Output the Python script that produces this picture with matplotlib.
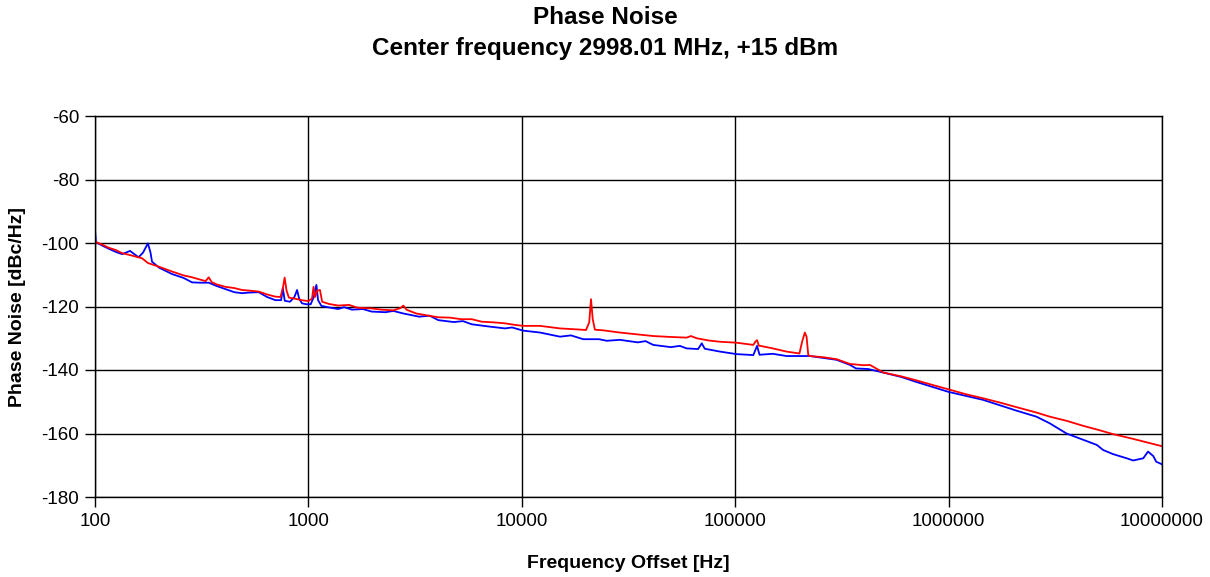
import matplotlib
matplotlib.use("Agg")
import matplotlib.pyplot as plt
from matplotlib.ticker import FixedLocator, FixedFormatter, NullLocator

plt.rcParams['font.family'] = ['Liberation Sans', 'DejaVu Sans']
plt.rcParams['axes.unicode_minus'] = False

# ---- data ----
red_freq = [100, 108, 116, 125, 134, 146, 166, 177, 200, 230, 260, 285, 310, 330, 341, 352,
            370, 408, 450, 489, 530, 585, 640, 700, 740, 760, 774, 790, 810, 860, 930,
            1000, 1040, 1057, 1075, 1100, 1133, 1160, 1250, 1380, 1550, 1700, 1977, 2200,
            2500, 2700, 2786, 2880, 3200, 3600, 4064, 4600, 5200, 5825, 6500, 7400, 8337,
            9300, 10150, 12170, 15100, 18000, 20000, 20700, 21100, 21500, 22000, 24000,
            28800, 35000, 41300, 50000, 59200, 62000, 66000, 75000, 84800, 101500, 121600,
            124500, 126600, 129000, 150000, 174000, 200000, 206000, 212000, 216000, 220000,
            224000, 260000, 299000, 345000, 400000, 428000, 460000, 494000, 600000, 709000,
            850000, 1000000, 1200000, 1450000, 1750000, 2080000, 2580000, 2980000, 3570000,
            4280000, 5120000, 5900000, 7330000, 8500000, 10000000]
red_db = [-99.6, -100.5, -101.5, -102.2, -103.2, -103.8, -104.8, -106.3, -107.5, -109.0,
          -110.2, -110.8, -111.5, -112.0, -110.8, -112.3, -113.0, -113.8, -114.2, -114.8,
          -115.0, -115.3, -116.2, -116.9, -117.0, -114.0, -110.9, -115.0, -117.2, -117.5,
          -118.0, -118.3, -117.5, -113.8, -117.0, -115.0, -114.8, -118.5, -119.2, -119.7,
          -119.5, -120.4, -120.6, -121.0, -121.2, -120.5, -119.7, -121.0, -122.2, -122.8,
          -123.4, -123.5, -124.0, -124.0, -124.8, -125.0, -125.3, -125.8, -126.1, -126.1,
          -126.9, -127.2, -127.4, -125.0, -117.7, -124.0, -127.3, -127.5, -128.2, -128.8,
          -129.3, -129.6, -129.8, -129.3, -130.0, -130.7, -131.1, -131.4, -132.1, -131.0,
          -130.6, -132.3, -133.2, -134.2, -134.8, -131.0, -128.2, -129.5, -135.3, -135.6,
          -136.0, -136.6, -138.1, -138.5, -138.4, -139.6, -140.8, -142.0, -143.3, -144.8,
          -146.1, -147.6, -148.9, -150.3, -151.7, -153.4, -154.7, -156.0, -157.6, -159.0,
          -160.2, -161.7, -162.8, -164.0]

blue_freq = [100, 101, 108, 116, 125, 134, 146, 160, 168, 177, 182, 185, 200, 230, 260, 285,
             310, 341, 370, 408, 450, 489, 530, 585, 640, 700, 745, 759, 775, 820, 860, 885,
             905, 933, 980, 1025, 1060, 1090, 1110, 1150, 1250, 1380, 1470, 1600, 1800, 1977,
             2300, 2500, 2786, 3300, 3700, 4064, 4800, 5300, 5825, 7000, 8337, 9000, 10150,
             12170, 15100, 17000, 19400, 23000, 25000, 28800, 35000, 38000, 41300, 50000,
             55000, 59200, 67000, 69700, 72000, 84800, 101500, 121600, 126600, 130000, 150000,
             174000, 224000, 299000, 345000, 368000, 420000, 494000, 600000, 709000, 1000000,
             1450000, 2080000, 2580000, 2980000, 3570000, 4280000, 4950000, 5300000, 5900000,
             6830000, 7330000, 8170000, 8600000, 9100000, 9400000, 10000000]
blue_db = [-95.9, -99.7, -100.8, -101.8, -102.8, -103.5, -102.5, -104.5, -103.0, -100.1,
           -103.0, -105.9, -107.8, -109.8, -111.0, -112.4, -112.5, -112.5, -113.5, -114.5,
           -115.5, -115.8, -115.6, -115.5, -117.0, -118.0, -118.0, -114.3, -118.2, -118.5,
           -117.0, -114.8, -117.5, -119.0, -119.3, -119.3, -117.0, -113.2, -118.0, -119.8,
           -120.3, -120.8, -120.2, -121.0, -120.8, -121.6, -121.8, -121.4, -122.2, -123.2,
           -122.9, -124.3, -124.9, -124.6, -125.6, -126.3, -126.9, -126.6, -127.6, -128.2,
           -129.5, -129.1, -130.3, -130.3, -130.8, -130.5, -131.3, -130.9, -132.1, -132.8,
           -132.4, -133.2, -133.4, -131.6, -133.3, -134.2, -135.0, -135.3, -132.4, -135.2,
           -134.9, -135.6, -135.6, -136.8, -138.4, -139.5, -139.7, -140.8, -142.2, -143.8,
           -146.9, -149.4, -152.8, -154.7, -156.8, -160.0, -162.0, -163.6, -165.2, -166.5,
           -167.8, -168.5, -167.8, -165.7, -167.1, -168.9, -169.7]

x_ticks = [100, 1000, 10000, 100000, 1000000, 10000000]
x_tick_labels = ["100", "1000", "10000", "100000", "1000000", "10000000"]
y_ticks = [-180, -160, -140, -120, -100, -80, -60]

title = "Phase Noise"
subtitle = "Center frequency 2998.01 MHz, +15 dBm"
xlabel = "Frequency Offset [Hz]"
ylabel = "Phase Noise [dBc/Hz]"

# ---- figure ----
W, H = 1210, 577
fig = plt.figure(figsize=(W / 100, H / 100), dpi=100)
ax = fig.add_axes([95 / W, (H - 497) / H, (1162 - 95) / W, (497 - 116) / H])

ax.plot(blue_freq, blue_db, color="#0000FF", lw=1.3)
ax.plot(red_freq, red_db, color="#FF0000", lw=1.3)

ax.set_xscale("log")
ax.set_xlim(100, 10000000)
ax.set_ylim(-180, -60)
ax.xaxis.set_major_locator(FixedLocator(x_ticks))
ax.xaxis.set_major_formatter(FixedFormatter(x_tick_labels))
ax.xaxis.set_minor_locator(NullLocator())
ax.yaxis.set_major_locator(FixedLocator(y_ticks))
ax.grid(True, color="black", lw=1.0)
ax.set_axisbelow(True)
for s in ax.spines.values():
    s.set_color("black")
    s.set_linewidth(1.0)
ax.tick_params(axis="both", direction="out", length=7, width=1, color="black",
               labelsize=13.5, labelcolor="black", pad=4.5)

fig.text(628.5 / W, 1 - 563 / H, xlabel, ha="center", va="center",
         fontsize=14, fontweight="bold")
fig.text(18 / W, 1 - 307 / H, ylabel, ha="center", va="center", rotation=90,
         fontsize=14, fontweight="bold")

fig.text(605 / W, 1 - 17 / H, title, ha="center", va="center", fontsize=17.5, fontweight="bold")
fig.text(605 / W, 1 - 48 / H, subtitle, ha="center", va="center", fontsize=17.5, fontweight="bold")

fig.savefig("out.png", dpi=100, facecolor="white")
